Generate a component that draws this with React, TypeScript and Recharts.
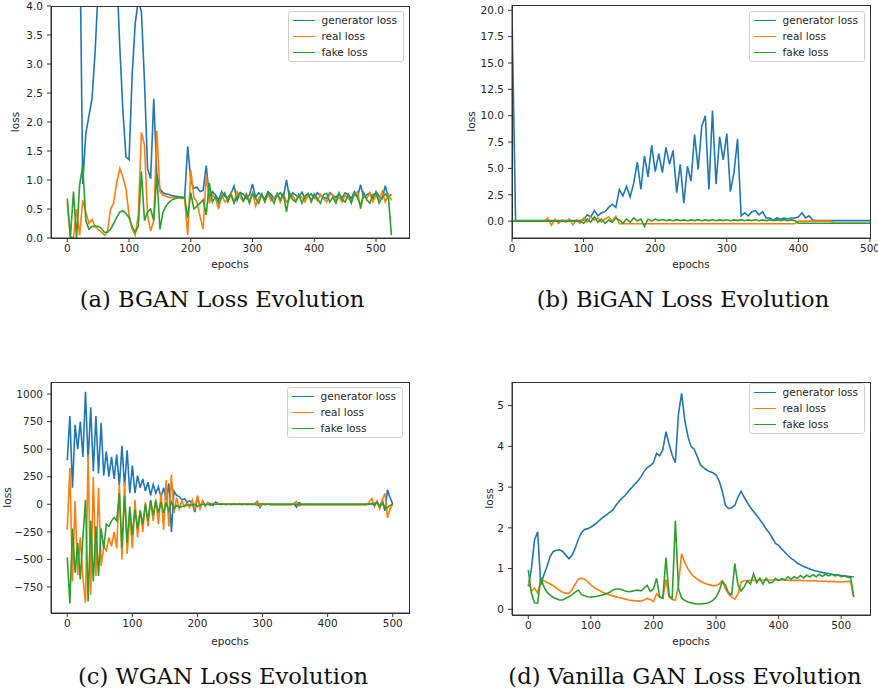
import React from "react"
import { LineChart, Line, XAxis, YAxis, Legend, Label } from "recharts"

const BLUE = "#1f77b4"
const ORANGE = "#ff7f0e"
const GREEN = "#2ca02c"
const INK = "#262626"
const FRAME = "#333333"

// (a) BGAN, every 5 epochs from 0 to 525
const bganGen = [
  6, 6, 6, 6, 5.5, 0.93, 1.8, 2.1, 2.4, 3.2,
  4.3, 6, 7, 7, 7, 6, 4.6, 3.3, 2.2, 1.4,
  1.35, 2.8, 3.7, 4.1, 3.9, 2.7, 1.2, 1.02, 2.4, 1.1,
  0.85, 0.78, 0.76, 0.75, 0.73, 0.72, 0.71, 0.7, 0.69, 1.58,
  1.0, 0.85, 0.88, 0.8, 0.82, 1.25, 0.7, 0.8, 0.74, 0.66,
  0.8, 0.72, 0.7, 0.76, 0.9, 0.65, 0.78, 0.76, 0.68, 0.74,
  0.93, 0.7, 0.78, 0.72, 0.68, 0.8, 0.75, 0.68, 0.72, 0.78,
  0.7, 1.0, 0.68, 0.78, 0.74, 0.7, 0.79, 0.68, 0.72, 0.76,
  0.69, 0.78, 0.73, 0.7, 0.68, 0.78, 0.74, 0.7, 0.76, 0.69,
  0.78, 0.75, 0.68, 0.8, 0.7, 0.92, 0.7, 0.74, 0.78, 0.68,
  0.8, 0.72, 0.68, 0.9, 0.7, 0.75,
]
const bganReal = [
  0.6, 0.02, 0.0, 0.5, 0.05, 0.65, 0.45, 0.25, 0.32, 0.2,
  0.15, 0.1, 0.05, 0.1, 0.5, 0.6, 0.95, 1.2, 1.05, 0.85,
  0.4, 0.15, 0.05, 0.4, 1.82, 1.6, 0.4, 0.12, 0.3, 1.85,
  0.8, 0.74, 0.72, 0.7, 0.7, 0.69, 0.69, 0.68, 0.68, 0.05,
  1.17, 0.7, 0.62, 0.37, 0.15, 1.1, 0.6, 0.75, 0.68, 0.5,
  0.75, 0.62, 0.66, 0.78, 0.62, 0.8, 0.7, 0.63, 0.77, 0.64,
  0.78, 0.55, 0.7, 0.74, 0.62, 0.76, 0.64, 0.7, 0.75, 0.62,
  0.76, 0.62, 0.68, 0.74, 0.63, 0.75, 0.7, 0.62, 0.76, 0.66,
  0.74, 0.64, 0.75, 0.68, 0.62, 0.76, 0.74, 0.64, 0.7, 0.62,
  0.74, 0.68, 0.63, 0.76, 0.8, 0.5, 0.74, 0.68, 0.78, 0.62,
  0.75, 0.66, 0.8, 0.62, 0.75, 0.65,
]
const bganFake = [
  0.68, 0.0, 0.8, 0.0, 0.92, 1.25, 0.3, 0.15, 0.2, 0.2,
  0.2, 0.17, 0.1, 0.1, 0.15, 0.25, 0.35, 0.45, 0.47, 0.42,
  0.35, 0.2, 0.1, 0.2, 1.15, 0.3, 0.45, 0.5, 0.3, 1.1,
  0.15, 0.45, 0.55, 0.62, 0.66, 0.68, 0.7, 0.7, 0.7, 0.35,
  0.78, 0.5, 0.55, 0.6, 0.66, 0.4, 0.95, 0.62, 0.72, 0.6,
  0.7, 0.78, 0.62, 0.75, 0.6, 0.72, 0.78, 0.64, 0.74, 0.6,
  0.77, 0.68, 0.6, 0.76, 0.63, 0.78, 0.7, 0.6, 0.77, 0.66,
  0.76, 0.45, 0.78, 0.66, 0.62, 0.75, 0.6, 0.72, 0.77, 0.62,
  0.76, 0.68, 0.6, 0.75, 0.77, 0.62, 0.7, 0.6, 0.78, 0.66,
  0.62, 0.75, 0.6, 0.77, 0.7, 0.55, 0.78, 0.66, 0.6, 0.75,
  0.77, 0.6, 0.7, 0.76, 0.7, 0.05,
]

// (b) BiGAN, every 5 epochs from 0 to 500
const bigGen = [
  19.5, 0.05, 0.05, 0.05, 0.05, 0.05, 0.05, 0.05, 0.05, 0.05,
  0.05, 0.05, 0.05, 0.05, 0.05, 0.05, 0.05, 0.05, 0.05, 0.05,
  0.1, 0.6, 0.4, 1.0, 0.5, 0.8, 0.9, 1.3, 1.6, 1.3,
  3.0, 2.4, 3.3, 2.3, 3.6, 5.6, 3.0, 6.2, 4.2, 7.2,
  4.7, 6.4, 4.6, 7.0, 5.4, 6.7, 2.7, 5.4, 1.7, 5.2,
  3.8, 8.2, 4.9, 9.0, 10.0, 3.0, 10.5, 3.5, 8.0, 5.8,
  8.3, 2.8, 4.6, 7.8, 0.5, 0.8, 0.5, 0.9, 1.0, 0.6,
  0.9, 0.3, 0.3, 0.1, 0.3, 0.2, 0.3, 0.2, 0.3, 0.3,
  0.4, 0.8, 0.3, 0.5, 0.1, 0.05, 0.05, 0.05, 0.05, 0.05,
  0.05, 0.05, 0.05, 0.05, 0.05, 0.05, 0.05, 0.05, 0.05, 0.05,
  0.05,
]
const bigReal = [
  0, 0, 0, 0, 0, 0, 0, 0, 0, 0,
  0.3, -0.4, 0.2, -0.2, 0.1, -0.1, 0.2, -0.35, 0.1, -0.2,
  0.3, -0.1, 0.4, 0.1, 0.3, -0.1, 0.2, 0.4, 0.0, 0.45,
  -0.25, -0.25, -0.25, -0.25, -0.25, -0.25, -0.25, -0.25, -0.25, -0.25,
  -0.25, -0.25, -0.25, -0.25, -0.25, -0.25, -0.25, -0.25, -0.25, -0.25,
  -0.25, -0.25, -0.25, -0.25, -0.25, -0.25, -0.25, -0.25, -0.25, -0.25,
  -0.25, -0.25, -0.25, -0.25, -0.25, -0.25, -0.25, -0.25, -0.25, -0.25,
  -0.25, -0.25, -0.25, -0.25, -0.25, -0.25, -0.25, -0.25, -0.25, -0.25,
  0, 0, 0, 0, 0, 0, 0, 0, 0, 0,
  -0.2, -0.2, -0.2, -0.2, -0.2, -0.2, -0.2, -0.2, -0.2, -0.2,
  -0.2,
]
const bigFake = [
  0, 0, 0, 0, 0, 0, 0, 0, 0, 0,
  0, 0, 0, 0, 0, 0, 0, 0, 0, 0,
  -0.2, 0.2, -0.1, 0.4, -0.1, 0.2, -0.2, 0.1, -0.1, 0.3,
  0.1, -0.2, 0.2, -0.1, 0.3, 0.0, 0.2, -0.5, 0.2, 0.0,
  0.2, 0.05, 0.15, 0.05, 0.12, 0.04, 0.14, 0.05, 0.12, 0.04,
  0.12, 0.05, 0.14, 0.04, 0.12, 0.05, 0.13, 0.04, 0.12, 0.05,
  0.13, 0.04, 0.12, 0.05, 0.14, 0.04, 0.12, 0.05, 0.13, 0.04,
  0.12, 0.05, 0.13, 0.04, 0.12, 0.05, 0.14, 0.04, 0.12, 0.05,
  -0.2, -0.2, -0.2, -0.2, -0.2, -0.2, -0.2, -0.2, -0.2, -0.2,
  -0.2, -0.2, -0.2, -0.2, -0.2, -0.2, -0.2, -0.2, -0.2, -0.2,
  -0.2,
]

// (c) WGAN, every 4 epochs from 0 to 500
const wganGen = [
  400, 800, 150, 720, 500, 750, 430, 1020, 390, 880,
  300, 800, 280, 740, 260, 480, 250, 430, 230, 450,
  170, 530, 160, 490, 100, 350, 100, 260, 150, 230,
  120, 200, 80, 180, 100, 160, 60, 150, 40, 190,
  -250, 120, 80, 70, 40, 50, 20, 30, 10, -70,
  60, -20, 30, -10, 15, 5, -10, 20, 5, 0,
  5, 0, 3, 0, 5, 0, 3, 0, 2, 0,
  2, 0, 5, 20, -30, 5, 0, 2, 0, 0,
  0, 0, 0, 0, 0, 0, 0, 5, -25, 15,
  0, 0, 0, 0, 0, 0, 0, 0, 0, 0,
  0, 0, 0, 0, 0, 0, 0, 0, 0, 0,
  0, 0, 0, 0, 0, 0, 5, 0, 10, 20,
  -30, 40, -60, 130, 60, 0,
]
const wganReal = [
  -230, 330, -700, 30, -640, -300, -660, -890, 450, -820,
  250, -650, 150, -560, -380, -420, -300, -380, -250, -400,
  180, -500, 200, -450, -100, -400, 40, -300, -50, -250,
  20, -200, 30, -150, 50, -180, 100, -230, 220, -200,
  270, -80, 60, -40, 30, -20, 15, -30, 40, -50,
  80, -40, 30, -20, 15, -10, 10, 0, 10, -5,
  5, -5, 5, -5, 8, -5, 5, -5, 3, -5,
  3, -5, 5, 30, -20, 5, -5, 3, -5, -5,
  -5, -5, -5, -5, -5, -5, -5, 5, 25, -15,
  -5, -5, -5, -5, -5, -5, -5, -5, -5, -5,
  -5, -5, -5, -5, -5, -5, -5, -5, -5, -5,
  -5, -5, -5, -5, -5, -5, 20, 50, -20, 30,
  -40, 40, 100, -123, -40, 0,
]
const wganFake = [
  -480, -900, -220, -620, -350, -680, -300, 40, -880, -150,
  -700, -200, -650, -220, -400, -180, -200, -150, -120, -150,
  100, -400, 80, -350, -20, -280, -50, -220, -60, -180,
  0, -150, 40, -100, 30, -80, 20, -80, 10, -60,
  20, -40, -10, -30, -20, -15, -10, -5, -10, 0,
  -20, -10, 0, -5, 0, -5, 0, 0, 0, 0,
  0, 0, 0, 0, 0, 0, 0, 0, 0, 0,
  0, 0, 0, -10, 5, 0, 0, 0, 0, 0,
  0, 0, 0, 0, 0, 0, 0, 0, 0, 0,
  0, 0, 0, 0, 0, 0, 0, 0, 0, 0,
  0, 0, 0, 0, 0, 0, 0, 0, 0, 0,
  0, 0, 0, 0, 0, 0, 0, 10, -10, 20,
  -20, 10, -40, -30, -10, 0,
]

// (d) Vanilla GAN, every 5 epochs from 0 to 520
const vanGen = [
  0.56, 1.0, 1.7, 1.9, 0.6, 0.85, 1.05, 1.3, 1.42, 1.45,
  1.46, 1.42, 1.33, 1.24, 1.33, 1.5, 1.72, 1.88, 1.96, 1.98,
  2.02, 2.07, 2.13, 2.2, 2.26, 2.32, 2.38, 2.44, 2.55, 2.65,
  2.73, 2.8, 2.9, 2.98, 3.07, 3.15, 3.25, 3.38, 3.48, 3.53,
  3.6, 3.83, 3.77, 3.92, 4.36, 4.05, 3.78, 3.6, 4.8, 5.3,
  4.65, 4.25, 4.0, 3.93, 3.75, 3.55, 3.48, 3.42, 3.38, 3.35,
  3.3, 3.15, 2.9, 2.55, 2.47, 2.5, 2.55, 2.75, 2.9, 2.75,
  2.62, 2.5, 2.4, 2.3, 2.2, 2.1, 1.97, 1.88, 1.75, 1.62,
  1.57, 1.48, 1.4, 1.32, 1.25, 1.2, 1.13, 1.09, 1.05, 1.02,
  0.99, 0.96, 0.94, 0.92, 0.9, 0.89, 0.88, 0.86, 0.85, 0.84,
  0.83, 0.82, 0.81, 0.8, 0.8,
]
const vanReal = [
  0.68, 0.45, 0.52, 0.4, 0.7, 0.7, 0.66, 0.62, 0.58, 0.52,
  0.46, 0.42, 0.39, 0.39, 0.48, 0.62, 0.74, 0.76, 0.74, 0.68,
  0.6, 0.54, 0.49, 0.45, 0.41, 0.38, 0.35, 0.33, 0.31, 0.29,
  0.27, 0.25, 0.23, 0.22, 0.21, 0.2, 0.2, 0.23, 0.27, 0.24,
  0.19, 0.38, 0.3, 0.28, 0.73, 0.3, 0.24, 0.22, 0.6, 1.36,
  1.15, 1.0, 0.88, 0.8, 0.74, 0.69, 0.65, 0.62, 0.6, 0.58,
  0.58, 0.62, 0.7, 0.5, 0.38, 0.3, 0.25, 0.38, 0.66, 0.7,
  0.7, 0.71, 0.71, 0.71, 0.72, 0.72, 0.72, 0.72, 0.72, 0.72,
  0.72, 0.72, 0.72, 0.71, 0.71, 0.71, 0.71, 0.71, 0.7, 0.7,
  0.7, 0.7, 0.7, 0.69, 0.69, 0.69, 0.68, 0.68, 0.68, 0.67,
  0.67, 0.68, 0.68, 0.69, 0.3,
]
const vanFake = [
  0.97, 0.4, 0.16, 0.15, 0.78, 0.55, 0.42, 0.35, 0.29, 0.26,
  0.23, 0.23, 0.27, 0.31, 0.36, 0.42, 0.47, 0.36, 0.33, 0.31,
  0.3, 0.31, 0.32, 0.34, 0.36, 0.38, 0.42, 0.47, 0.5, 0.5,
  0.48, 0.45, 0.43, 0.44, 0.46, 0.47, 0.45, 0.52, 0.59, 0.44,
  0.5, 0.76, 0.3, 0.27, 1.27, 0.33, 0.27, 2.17, 0.5, 0.28,
  0.22, 0.18, 0.16, 0.14, 0.13, 0.13, 0.14, 0.15, 0.17, 0.22,
  0.3, 0.45, 0.68, 0.6, 0.4, 0.36, 1.12, 0.6, 0.45, 0.55,
  0.7, 0.62, 0.87, 0.65, 0.76, 0.62, 0.76, 0.65, 0.66, 0.76,
  0.7, 0.76, 0.72, 0.8, 0.74, 0.8, 0.76, 0.83, 0.77, 0.84,
  0.79, 0.85, 0.8, 0.86, 0.81, 0.86, 0.82, 0.86, 0.82, 0.84,
  0.8, 0.82, 0.79, 0.78, 0.3,
]

const epochTicks = [0, 100, 200, 300, 400, 500]
const bganYTicks = [0, 0.5, 1, 1.5, 2, 2.5, 3, 3.5, 4]
const bigYTicks = [0, 2.5, 5, 7.5, 10, 12.5, 15, 17.5, 20]
const wganYTicks = [-750, -500, -250, 0, 250, 500, 750, 1000]
const vanYTicks = [0, 1, 2, 3, 4, 5]

type Row = { epoch: number; gen: number; real: number; fake: number }

function toRows(step: number, gen: number[], real: number[], fake: number[]): Row[] {
  return gen.map((g, i) => ({ epoch: i * step, gen: g, real: real[i], fake: fake[i] }))
}

const oneDecimal = (v: number) => v.toFixed(1).replace("-", "\u2212")
const integer = (v: number) => String(v).replace("-", "\u2212")

function LossLegend() {
  const items: [string, string][] = [
    ["generator loss", BLUE],
    ["real loss", ORANGE],
    ["fake loss", GREEN],
  ]
  return (
    <div
      style={{
        border: "1px solid #d0d0d0",
        borderRadius: 3,
        background: "rgba(255,255,255,0.85)",
        padding: "0px 6px 1px 4px",
        fontFamily: "DejaVu Sans",
        fontSize: 10.5,
        color: INK,
        lineHeight: "16px",
        whiteSpace: "nowrap",
      }}
    >
      {items.map(([name, color]) => (
        <div key={name} style={{ display: "flex", alignItems: "center" }}>
          <span style={{ display: "inline-block", width: 22, borderTop: `1.8px solid ${color}`, marginRight: 7 }} />
          {name}
        </div>
      ))}
    </div>
  )
}

type PanelProps = {
  left: number
  top: number
  width: number
  height: number
  margin: { top: number; right: number; bottom: number; left: number }
  yAxisWidth: number
  xAxisHeight: number
  rows: Row[]
  xDomain: [number, number]
  yDomain: [number, number]
  yTicks: number[]
  yFormat: (v: number) => string
  lossOffset: number
  legendRight: number
  legendTop: number
}

function Panel(p: PanelProps) {
  const tick = { fill: INK, fontSize: 10.5, fontFamily: "DejaVu Sans" }
  // plot box, derived from the chart's margins and axis sizes
  const boxLeft = p.margin.left + p.yAxisWidth
  const boxTop = p.margin.top
  const boxWidth = p.width - p.margin.left - p.margin.right - p.yAxisWidth
  const boxHeight = p.height - p.margin.top - p.margin.bottom - p.xAxisHeight
  return (
    <div style={{ position: "absolute", left: p.left, top: p.top, width: p.width, height: p.height }}>
      <LineChart width={p.width} height={p.height} data={p.rows} margin={p.margin}>
        <XAxis
          dataKey="epoch"
          type="number"
          domain={p.xDomain}
          ticks={epochTicks}
          allowDataOverflow
          height={p.xAxisHeight}
          axisLine={{ stroke: FRAME }}
          tickSize={4}
          tickMargin={3}
          tickLine={{ stroke: FRAME }}
          stroke={FRAME}
          tick={tick}
        >
          <Label value="epochs" position="insideBottom" offset={4} fill={INK} fontSize={10.5} fontFamily="DejaVu Sans" />
        </XAxis>
        <YAxis
          type="number"
          domain={p.yDomain}
          ticks={p.yTicks}
          allowDataOverflow
          width={p.yAxisWidth}
          axisLine={{ stroke: FRAME }}
          tickSize={4}
          tickMargin={4}
          tickLine={{ stroke: FRAME }}
          stroke={FRAME}
          tick={tick}
          tickFormatter={p.yFormat}
          interval={0}
        >
          <Label
            value="loss"
            angle={-90}
            position="insideLeft"
            offset={p.lossOffset}
            fill={INK}
            fontSize={10.5}
            fontFamily="DejaVu Sans"
            style={{ textAnchor: "middle" }}
          />
        </YAxis>
        <Line type="linear" dataKey="gen" name="generator loss" stroke={BLUE} strokeWidth={1.6} dot={false} isAnimationActive={false} />
        <Line type="linear" dataKey="real" name="real loss" stroke={ORANGE} strokeWidth={1.6} dot={false} isAnimationActive={false} />
        <Line type="linear" dataKey="fake" name="fake loss" stroke={GREEN} strokeWidth={1.6} dot={false} isAnimationActive={false} />
        <Legend
          layout="vertical"
          align="center"
          verticalAlign="middle"
          content={<LossLegend />}
          wrapperStyle={{ right: p.legendRight, top: p.legendTop, left: "auto", width: "auto" }}
        />
      </LineChart>
      <div
        style={{
          position: "absolute",
          left: boxLeft - 0.5,
          top: boxTop - 0.5,
          width: boxWidth + 1,
          height: boxHeight + 1,
          boxSizing: "border-box",
          border: `1px solid ${FRAME}`,
          pointerEvents: "none",
        }}
      />
    </div>
  )
}

function Caption({ text, cx, cy }: { text: string; cx: number; cy: number }) {
  return (
    <div
      style={{
        position: "absolute",
        left: cx - 200,
        width: 400,
        top: cy - 14,
        height: 28,
        lineHeight: "28px",
        textAlign: "center",
        fontFamily: "DejaVu Serif",
        fontSize: 22.6,
        color: "#111",
      }}
    >
      {text}
    </div>
  )
}

export default function App() {
  return (
    <div style={{ position: "absolute", left: 0, top: 0, width: 878, height: 694, overflow: "hidden", background: "#fff" }}>
      <Panel
        left={0}
        top={0}
        width={440}
        height={280}
        margin={{ top: 6, right: 31, bottom: 8, left: 0 }}
        yAxisWidth={51}
        xAxisHeight={34}
        rows={toRows(5, bganGen, bganReal, bganFake)}
        xDomain={[-26.4, 553.4]}
        yDomain={[0, 4]}
        yTicks={bganYTicks}
        yFormat={oneDecimal}
        lossOffset={15}
        legendRight={36}
        legendTop={11}
      />
      <Panel
        left={440}
        top={0}
        width={438}
        height={280}
        margin={{ top: 5, right: 8, bottom: 8, left: 0 }}
        yAxisWidth={72}
        xAxisHeight={34}
        rows={toRows(5, bigGen, bigReal, bigFake)}
        xDomain={[0, 500]}
        yDomain={[-1.6, 20.5]}
        yTicks={bigYTicks}
        yFormat={oneDecimal}
        lossOffset={31}
        legendRight={13}
        legendTop={11}
      />
      <Panel
        left={0}
        top={380}
        width={440}
        height={290}
        margin={{ top: 2, right: 31, bottom: 21, left: 0 }}
        yAxisWidth={51}
        xAxisHeight={36}
        rows={toRows(4, wganGen, wganReal, wganFake)}
        xDomain={[-25, 525]}
        yDomain={[-986, 1109]}
        yTicks={wganYTicks}
        yFormat={integer}
        lossOffset={7}
        legendRight={37}
        legendTop={7}
      />
      <Panel
        left={440}
        top={380}
        width={438}
        height={290}
        margin={{ top: 2, right: 8, bottom: 21, left: 0 }}
        yAxisWidth={72}
        xAxisHeight={34}
        rows={toRows(5, vanGen, vanReal, vanFake)}
        xDomain={[-26, 546]}
        yDomain={[-0.14, 5.58]}
        yTicks={vanYTicks}
        yFormat={integer}
        lossOffset={49}
        legendRight={13}
        legendTop={3}
      />
      <Caption text="(a) BGAN Loss Evolution" cx={222} cy={299} />
      <Caption text="(b) BiGAN Loss Evolution" cx={683} cy={299} />
      <Caption text="(c) WGAN Loss Evolution" cx={223} cy={676} />
      <Caption text="(d) Vanilla GAN Loss Evolution" cx={685} cy={676} />
    </div>
  )
}
